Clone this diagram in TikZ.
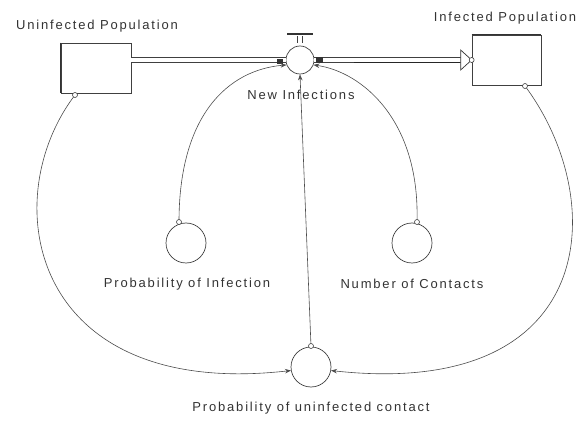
\documentclass[tikz,border=0pt]{standalone}
\usepackage{fontspec}
\setmainfont{Liberation Sans}[LetterSpace=14]
\usetikzlibrary{arrows.meta,calc}
\begin{document}
\begin{tikzpicture}[x=1pt,y=-1pt,
  ink/.style={draw=black!75, line width=0.7pt},
  stock/.style={ink, rectangle, inner sep=0pt},
  aux/.style={ink, circle, inner sep=0pt},
  lbl/.style={text=black!80, font=\fontsize{13}{15}\selectfont, inner sep=0pt},
  conn/.style={draw=black!70, line width=0.6pt, -{Stealth[length=6pt,width=4.5pt]}},
  dot/.style={draw=black!75, line width=0.6pt, fill=white}]
\useasboundingbox (0,0) rectangle (579,422);

% stocks
\node[stock, minimum width=70pt, minimum height=50pt] (un) at (96,68) {};
\node[stock, minimum width=69pt, minimum height=50pt] (inf) at (506.5,60) {};
\draw[black!80, line width=1.3pt] (un.north west) -- (un.south west);
\draw[black!80, line width=1.3pt] (inf.north west) -- (inf.north east);

% valve
\node[aux, minimum size=28pt] (valve) at (300,60) {};
\coordinate (bar) at (300,34);
\draw[black!80, line width=1.5pt] ($(bar)+(-13,0)$) -- ($(bar)+(13,0)$);
\draw[black!75, line width=0.6pt] ($(bar)+(-3,2)$) -- ($(bar)+(-3,9)$)
      ($(bar)+(2,2)$) -- ($(bar)+(2,9)$);

% auxiliaries
\node[aux, minimum size=40pt] (pinf) at (186,243) {};
\node[aux, minimum size=40pt] (ncont) at (412,243) {};
\node[aux, minimum size=40pt] (pun) at (311,367) {};

% labels
\node[lbl] (lun) at (97,26) {Uninfected Population};
\node[lbl] (linf) at (505,18) {Infected Population};
\node[lbl] (lnew) at (301,95) {New Infections};
\node[lbl] (lpinf) at (187,284) {Probability of Infection};
\node[lbl] (lnc) at (412,284) {Number of Contacts};
\node[lbl] (lpun) at (311,408) {Probability of uninfected contact};

% flows (pipes)
\coordinate (pipeA) at (un.east |- valve.west);
\draw[black!75, line width=0.6pt, double distance=4pt] (pipeA) -- (valve.west);
\coordinate (pipeB) at (inf.west |- valve.east);
\coordinate (pipeBend) at ($(pipeB)+(-11,0)$);
\draw[black!75, line width=0.6pt, double distance=4pt] (valve.east) -- (pipeBend);
\draw[black!85, line width=1.3pt] ($(valve.east)+(40,2.3)$) -- ($(pipeBend)+(0,2.3)$);
\draw[black!80, line width=0.7pt, fill=white] ($(pipeBend)+(0,-10)$) -- (pipeB) -- ($(pipeBend)+(0,10)$) -- cycle;
\draw[dot] (pipeB) circle[radius=2.5pt];
\fill[black!80] ($(valve.west)+(-9,-1)$) rectangle ($(valve.west)+(-3,4)$);
\fill[black!80] ($(valve.east)+(2,-3)$) rectangle ($(valve.east)+(9,3)$);

% influence links
\coordinate (sUn) at (75,95);
\coordinate (sInf) at (525,86);
\coordinate (sPinf) at (179,222);
\coordinate (sNc) at (417,222);
\coordinate (sPun) at (311,346);

\draw[conn] (sUn) .. controls (-5,200) and (30,400) .. (pun.190);
\draw[conn] (sInf) .. controls (610,200) and (600,400) .. (pun.350);
\draw[conn] (sPinf) .. controls (179,115) and (228,70) .. (valve.200);
\draw[conn] (sNc) .. controls (420,120) and (362,72) .. (valve.340);
\draw[conn] (sPun) -- (valve.south);

\foreach \c in {sUn,sInf,sPinf,sNc,sPun} \draw[dot] (\c) circle[radius=2.5pt];
\end{tikzpicture}
\end{document}
